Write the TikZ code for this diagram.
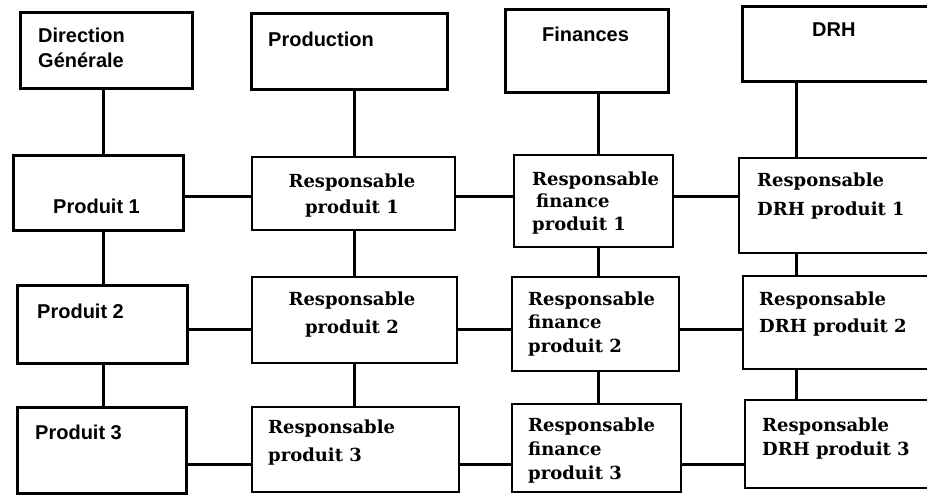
\documentclass[tikz,border=0pt]{standalone}
\usepackage{fontspec}
\setmainfont{Liberation Sans}
\newfontfamily\slabfont{DejaVu Serif}
\newcommand{\slabsize}[1]{\fontsize{18}{#1}\selectfont\slabfont\bfseries}
\begin{document}
\begin{tikzpicture}[x=1pt,y=-1pt,
  thickbox/.style={draw, line width=3pt, inner sep=0pt},
  thinbox/.style={draw, line width=2.2pt, inner sep=0pt},
  link/.style={line width=3pt},
  head/.style={font=\fontsize{20}{25}\selectfont\bfseries, align=left, anchor=base west, inner sep=0pt},
  resp/.style={font=\slabsize{24}, align=left, anchor=base west, inner sep=0pt},
  respc/.style={resp, align=center, anchor=base}]
\useasboundingbox (0,0) rectangle (927,495);
\fill[white] (0,0) rectangle (927,495);

% top row: departments
\node[thickbox, minimum width=172pt, minimum height=76pt] (dg)   at (106,51)    {};
\node[thickbox, minimum width=196pt, minimum height=76pt] (prod) at (349,52)    {};
\node[thickbox, minimum width=163pt, minimum height=83pt] (fin)  at (586.5,51.5) {};
\node[thickbox, minimum width=198pt, minimum height=75pt] (drh)  at (841,44)    {};

% left column: products
\node[thickbox, minimum width=170pt, minimum height=75pt] (p1) at (98,192.5) {};
\node[thickbox, minimum width=170pt, minimum height=78pt] (p2) at (102,324)  {};
\node[thickbox, minimum width=169pt, minimum height=86pt] (p3) at (101.5,450) {};

% product managers
\node[thinbox, minimum width=203pt, minimum height=73pt] (rp1) at (353.5,193.5) {};
\node[thinbox, minimum width=205pt, minimum height=86pt] (rp2) at (354.5,320)   {};
\node[thinbox, minimum width=207pt, minimum height=85pt] (rp3) at (355.5,449.5) {};

% finance managers
\node[thinbox, minimum width=159pt, minimum height=92pt] (rf1) at (593.5,201) {};
\node[thinbox, minimum width=167pt, minimum height=94pt] (rf2) at (595.5,324) {};
\node[thinbox, minimum width=169pt, minimum height=88pt] (rf3) at (596.5,448) {};

% HR managers
\node[thinbox, minimum width=201pt, minimum height=95pt] (rd1) at (839.5,205.5) {};
\node[thinbox, minimum width=197pt, minimum height=93pt] (rd2) at (841.5,322.5) {};
\node[thinbox, minimum width=195pt, minimum height=88pt] (rd3) at (842.5,444)   {};

% labels (multi-line nodes are placed by the baseline of their last line)
\node[head] (tdg)   at (38,68)  {Direction\\Générale};
\node[head] (tprod) at (268,47) {Production};
\node[head] (tfin)  at (542,42) {Finances};
\node[head] (tdrh)  at (812,37) {DRH};
\node[head] (tp1)   at (53,213) {Produit 1};
\node[head] (tp2)   at (37,318) {Produit 2};
\node[head] (tp3)   at (35,439) {Produit 3};

\node[respc, font=\slabsize{26}] (trp1) at (352,213) {Responsable\\produit 1};
\node[respc, font=\slabsize{28}] (trp2) at (352,333) {Responsable\\produit 2};
\node[resp,  font=\slabsize{28}] (trp3) at (268,461) {Responsable\\produit 3};

\node[resp, font=\slabsize{22.5}] (trf1) at (532,230) {Responsable\\\hspace{4pt}finance\\produit 1};
\node[resp, font=\slabsize{23.5}] (trf2) at (528,352) {Responsable\\finance\\produit 2};
\node[resp, font=\slabsize{24}]   (trf3) at (528,479) {Responsable\\finance\\produit 3};

\node[resp, font=\slabsize{29}] (trd1) at (757,215) {Responsable\\DRH produit 1};
\node[resp, font=\slabsize{27}] (trd2) at (759,332) {Responsable\\DRH produit 2};
\node[resp, font=\slabsize{24}] (trd3) at (762,455) {Responsable\\DRH produit 3};

% guide coordinates for the connectors
\coordinate (va) at (103,0);
\coordinate (vb) at (354,0);
\coordinate (vc) at (598,0);
\coordinate (vd) at (796,0);
\coordinate (h1) at (0,196);
\coordinate (h2) at (0,329);
\coordinate (h3) at (0,464);

% vertical links
\draw[link] (dg.south -| va) -- (p1.north -| va);
\draw[link] (p1.south -| va) -- (p2.north -| va);
\draw[link] (p2.south -| va) -- (p3.north -| va);
\draw[link] (prod.south -| vb) -- (rp1.north -| vb);
\draw[link] (rp1.south -| vb) -- (rp2.north -| vb);
\draw[link] (rp2.south -| vb) -- (rp3.north -| vb);
\draw[link] (fin.south -| vc) -- (rf1.north -| vc);
\draw[link] (rf1.south -| vc) -- (rf2.north -| vc);
\draw[link] (rf2.south -| vc) -- (rf3.north -| vc);
\draw[link] (drh.south -| vd) -- (rd1.north -| vd);
\draw[link] (rd1.south -| vd) -- (rd2.north -| vd);
\draw[link] (rd2.south -| vd) -- (rd3.north -| vd);

% horizontal links
\draw[link] (p1.east |- h1) -- (rp1.west |- h1);
\draw[link] (rp1.east |- h1) -- (rf1.west |- h1);
\draw[link] (rf1.east |- h1) -- (rd1.west |- h1);
\draw[link] (p2.east |- h2) -- (rp2.west |- h2);
\draw[link] (rp2.east |- h2) -- (rf2.west |- h2);
\draw[link] (rf2.east |- h2) -- (rd2.west |- h2);
\draw[link] (p3.east |- h3) -- (rp3.west |- h3);
\draw[link] (rp3.east |- h3) -- (rf3.west |- h3);
\draw[link] (rf3.east |- h3) -- (rd3.west |- h3);
\end{tikzpicture}
\end{document}
